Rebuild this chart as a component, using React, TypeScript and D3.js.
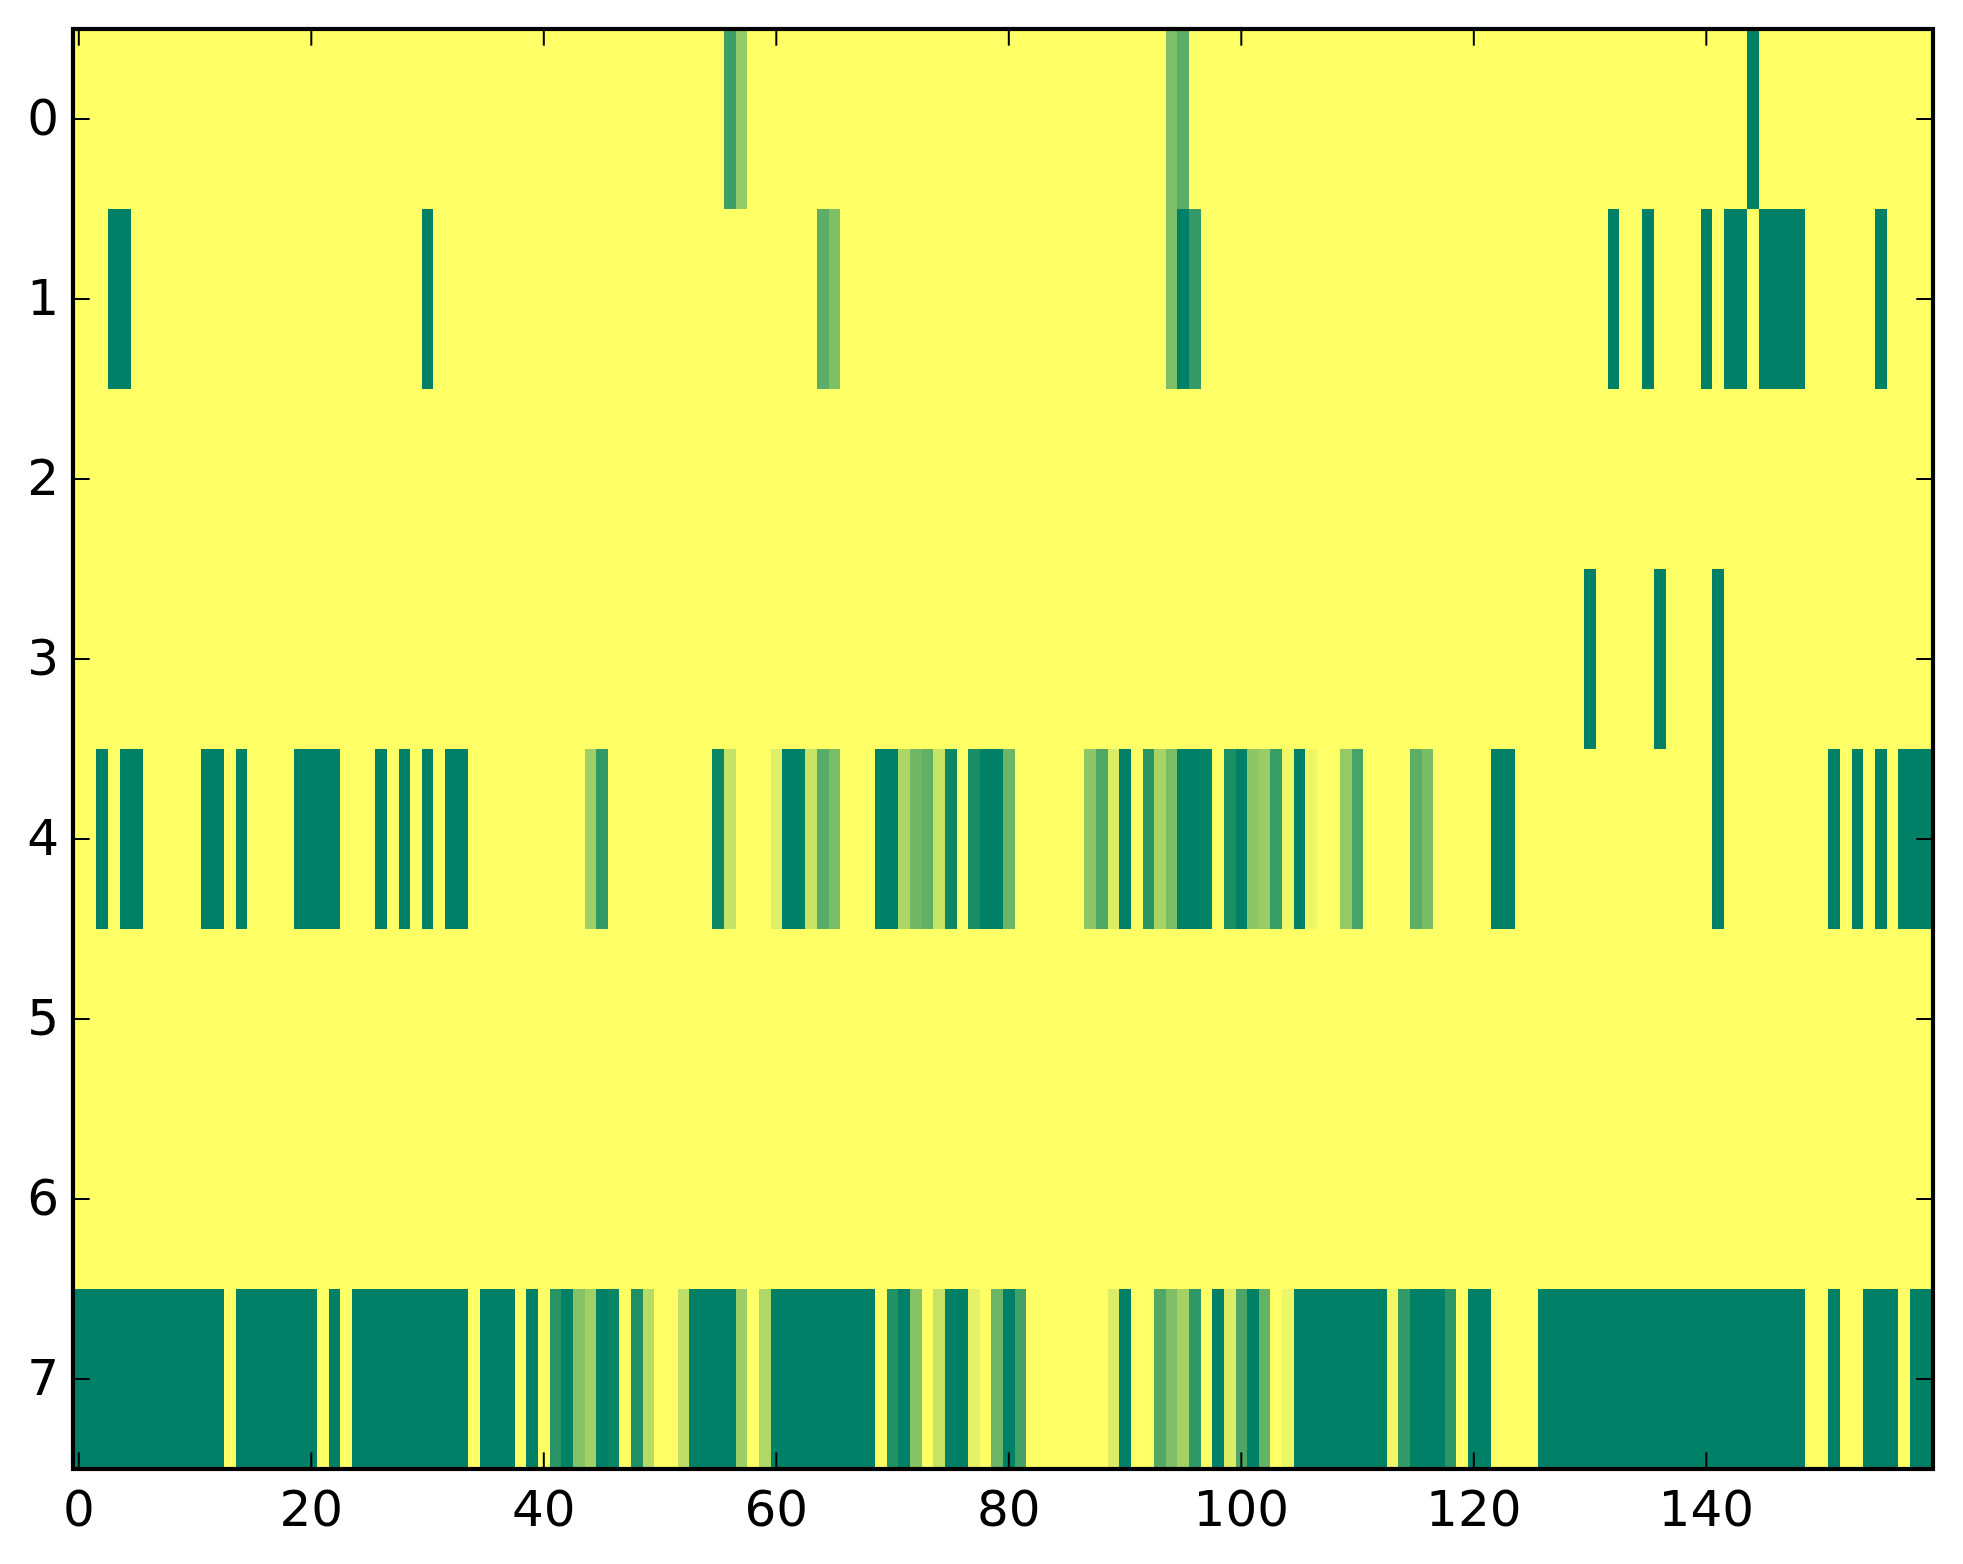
import React, { useRef, useEffect } from 'react';
import * as d3 from 'd3';

type Cell = [number, number]; // [column, value]

// columns at full value, per row
const row0Full = [144];
const row1Full = [3, 4, 30, 95, 132, 135, 140, 142, 143, 145, 146, 147, 148, 155];
const row3Full = [130, 136, 141];
const row4Full = [
  2, 4, 5, 11, 12, 14, 19, 20, 21, 22, 26, 28, 30, 32, 33, 61, 62, 69, 70, 78, 79, 90, 95, 96,
  100, 105, 122, 123, 141, 151, 153, 155, 157, 158, 159,
];
const row7Full = [
  0, 1, 2, 3, 4, 5, 6, 7, 8, 9, 10, 11, 12, 14, 15, 16, 17, 18, 19, 20, 22, 24, 25, 26, 27, 28,
  29, 30, 31, 32, 33, 35, 36, 37, 39, 42, 45, 53, 54, 55, 56, 60, 61, 62, 63, 64, 65, 66, 67, 68,
  71, 75, 76, 80, 90, 98, 101, 105, 106, 107, 108, 109, 110, 111, 112, 115, 116, 117, 120, 121,
  126, 127, 128, 129, 130, 131, 132, 133, 134, 135, 136, 137, 138, 139, 140, 141, 142, 143, 144,
  145, 146, 147, 148, 151, 154, 155, 156, 158, 159,
];

// columns with an in-between value, per row
const row0Mid: Cell[] = [[56, 0.76], [57, 0.42], [94, 0.51], [95, 0.64]];
const row1Mid: Cell[] = [[64, 0.64], [65, 0.51], [94, 0.51], [96, 0.8]];
const row4Mid: Cell[] = [
  [44, 0.37], [45, 0.8], [55, 0.95], [56, 0.23], [60, 0.13], [63, 0.22], [64, 0.65], [65, 0.52],
  [68, 0.01], [71, 0.32], [72, 0.56], [73, 0.62], [74, 0.22], [75, 0.95], [77, 0.9], [80, 0.58],
  [87, 0.45], [88, 0.69], [89, 0.14], [92, 0.84], [93, 0.34], [94, 0.52], [97, 0.98], [99, 0.89],
  [101, 0.45], [102, 0.4], [103, 0.78], [104, 0.06], [106, 0.07], [109, 0.42], [110, 0.72],
  [115, 0.64], [116, 0.53],
];
const row7Mid: Cell[] = [
  [41, 0.84], [43, 0.48], [44, 0.37], [46, 0.96], [48, 0.88], [49, 0.28], [52, 0.25], [57, 0.39],
  [59, 0.31], [70, 0.87], [72, 0.47], [74, 0.22], [77, 0.1], [79, 0.58], [81, 0.74], [89, 0.14],
  [92, 0.01], [93, 0.68], [94, 0.51], [95, 0.36], [96, 0.81], [99, 0.14], [100, 0.7], [102, 0.61],
  [104, 0.07], [113, 0.06], [114, 0.8], [118, 0.83],
];

const rows: { row: number; full: number[]; mid: Cell[] }[] = [
  { row: 0, full: row0Full, mid: row0Mid },
  { row: 1, full: row1Full, mid: row1Mid },
  { row: 3, full: row3Full, mid: [] },
  { row: 4, full: row4Full, mid: row4Mid },
  { row: 7, full: row7Full, mid: row7Mid },
];

const xTicks = [0, 20, 40, 60, 80, 100, 120, 140];
const yTicks = [0, 1, 2, 3, 4, 5, 6, 7];

const WIDTH = 1963;
const HEIGHT = 1564;
const margin = { top: 29, right: 30, bottom: 95, left: 73 };
const TICK_LEN = 16.67;

const App: React.FC = () => {
  const svgRef = useRef<SVGSVGElement | null>(null);

  useEffect(() => {
    const svg = d3.select(svgRef.current);
    svg.selectAll('*').remove();
    const w = WIDTH - margin.left - margin.right;
    const h = HEIGHT - margin.top - margin.bottom;
    const g = svg.append('g').attr('transform', `translate(${margin.left},${margin.top})`);

    const x = d3.scaleLinear().domain([-0.5, 159.5]).range([0, w]);
    const y = d3.scaleLinear().domain([-0.5, 7.5]).range([0, h]);
    const color = d3.scaleLinear<string>().domain([0, 1]).range(['#ffff66', '#008066']);

    svg.append('defs').append('clipPath').attr('id', 'plot')
      .append('rect').attr('width', w).attr('height', h);

    const cells = rows.flatMap((r) => [
      ...r.full.map((col) => ({ row: r.row, col, value: 1 })),
      ...r.mid.map(([col, value]) => ({ row: r.row, col, value })),
    ]);

    const plot = g.append('g').attr('clip-path', 'url(#plot)');
    plot.append('rect').attr('width', w).attr('height', h).attr('fill', color(0));
    plot.selectAll('rect.cell')
      .data(cells)
      .enter()
      .append('rect')
      .attr('class', 'cell')
      .attr('x', (d) => x(d.col - 0.5))
      .attr('y', (d) => y(d.row - 0.5))
      .attr('width', (d) => x(d.col + 0.5) - x(d.col - 0.5))
      .attr('height', (d) => y(d.row + 0.5) - y(d.row - 0.5))
      .attr('fill', (d) => color(d.value))
      .attr('shape-rendering', 'crispEdges');

    // 4 sides, ticks inward, labels only bottom and left
    const xBottom = d3.axisBottom(x).tickValues(xTicks).tickSize(-TICK_LEN).tickPadding(21).offset(0);
    const xTop = d3.axisTop(x).tickValues(xTicks).tickSize(-TICK_LEN).tickFormat(() => '').offset(0);
    const yLeft = d3.axisLeft(y).tickValues(yTicks).tickSize(-TICK_LEN).tickPadding(14).offset(0);
    const yRight = d3.axisRight(y).tickValues(yTicks).tickSize(-TICK_LEN).tickFormat(() => '').offset(0);

    const axes = [
      g.append('g').attr('transform', `translate(0,${h})`).call(xBottom),
      g.append('g').call(xTop),
      g.append('g').call(yLeft),
      g.append('g').attr('transform', `translate(${w},0)`).call(yRight),
    ];
    axes.forEach((a) => {
      a.select('.domain').remove();
      a.selectAll('.tick line').attr('stroke', '#000').attr('stroke-width', 2);
      a.selectAll('.tick text')
        .attr('fill', '#000')
        .style('font-family', '"DejaVu Sans"')
        .style('font-size', '50px');
    });

    g.append('rect')
      .attr('width', w)
      .attr('height', h)
      .attr('fill', 'none')
      .attr('stroke', '#000')
      .attr('stroke-width', 4.17);
  }, []);

  return (
    <svg
      ref={svgRef}
      width={WIDTH}
      height={HEIGHT}
      style={{ position: 'absolute', left: 0, top: 0, background: '#fff' }}
    />
  );
};

export default App;
